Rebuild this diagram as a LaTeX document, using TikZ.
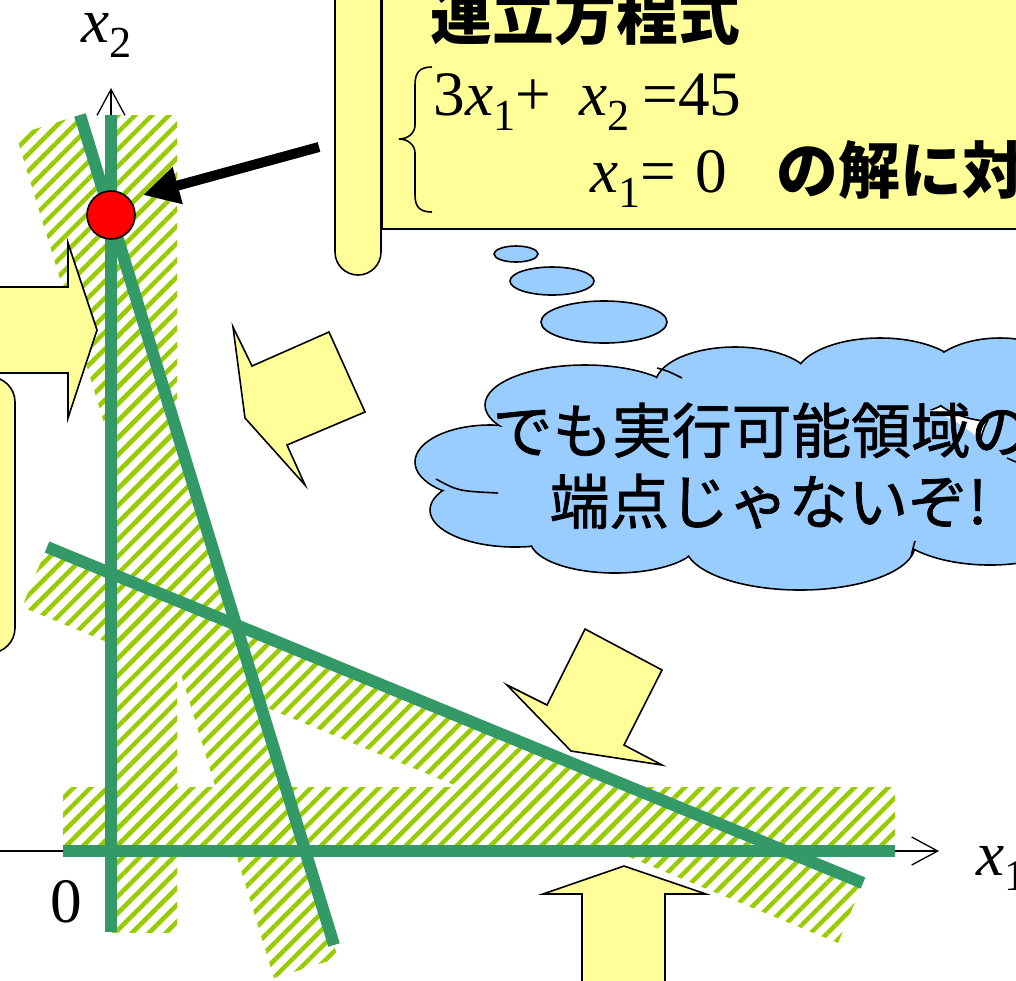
\documentclass[tikz,border=0pt]{standalone}
\usepackage{fontspec}
\setmainfont{Liberation Serif}
\newfontfamily\jpfont{Noto Sans CJK JP}
\newfontfamily\jpmid[FakeBold=1.2]{Noto Sans CJK JP}
\usetikzlibrary{arrows.meta,patterns.meta}
\definecolor{lpgreen}{HTML}{339966}
\definecolor{hatchgreen}{HTML}{99CC00}
\definecolor{scrollyellow}{HTML}{FFFF99}
\definecolor{cloudblue}{HTML}{99CCFF}
\newcommand{\vx}{\textit{x}}
\newcommand{\lsub}[1]{\raisebox{-0.25em}{\fontsize{12.6}{13}\selectfont #1}}

\begin{document}
\begin{tikzpicture}[x=0.1mm,y=-0.1mm,
    band/.style={pattern={Lines[angle=45,distance=1.2mm,line width=0.45mm]},pattern color=hatchgreen},
    gline/.style={lpgreen,line width=1.2mm},
    axis/.style={line width=0.13mm,-{Straight Barb[length=2.6mm,width=2.8mm]}},
    yel/.style={fill=scrollyellow,draw=black,line width=0.16mm},
    puff/.style={fill=cloudblue,draw=black,line width=0.16mm},
    serif/.style={font=\fontsize{18}{20}\selectfont,inner sep=0pt},
    jbold/.style={font=\jpfont\bfseries\fontsize{17.6}{20}\selectfont,inner sep=0pt},
    jtxt/.style={font=\jpmid\fontsize{17}{20}\selectfont,inner sep=0pt}]
    \useasboundingbox (0,0) rectangle (1016,980);
    \clip (0,0) rectangle (1016,980);
    \fill[band] (111,115) rectangle (177,932);
    \fill[band] (63,787) rectangle (895,851);
    \fill[band] (80,115) -- (338,958) -- (274,978) -- (16,135) -- cycle;
    \fill[band] (47,547) -- (863,883) -- (838,943) -- (22,607) -- cycle;
    \draw[axis] (-10,851) -- (939,851);
    \draw[axis] (111,851) -- (111,88);
    \draw[gline] (111,115) -- (111,932);
    \draw[gline] (63,851) -- (895,851);
    \draw[gline] (80,115) -- (334,945);
    \draw[gline] (47,547) -- (863,883);
    \node[serif,anchor=base west] (xtwo) at (81,42) {\vx\lsub{2}};
    \node[serif,anchor=base west] (xone) at (976,875) {\vx\lsub{1}};
    \node[serif] (zero) at (66,902) {0};
    \node[circle,fill=red,draw=black,line width=0.16mm,minimum size=4.8mm,inner sep=0pt] (sol) at (111,215) {};
    \coordinate (tail) at (319,147);
    \coordinate (tip) at (143,195);
    \draw[line width=1mm,-{Triangle[length=3.6mm,width=3.6mm]}] (tail) -- (tip);
    \draw[yel] (-10,287) -- (68,287) -- (68,243) -- (97,330) -- (68,418) -- (68,373) -- (-10,373) -- cycle;
    \draw[yel,rounded corners=2.5mm] (-50,377) rectangle (15,653);
    \draw[yel] (233,327) -- (252,366) -- (329,332) -- (365,412) -- (287,445) -- (305,485) -- (245,418) -- cycle;
    \draw[yel] (585,629) -- (662,670) -- (624,745) -- (662,765) -- (571,751) -- (507,685) -- (547,705) -- cycle;
    \draw[yel] (582,990) -- (582,894) -- (543,894) -- (624,866) -- (706,894) -- (665,894) -- (665,990) -- cycle;
    \draw[yel] (382,-20) rectangle (1040,229);
    \draw[yel,rounded corners=2.3mm] (335,-40) rectangle (381,275);
    \node[jbold,anchor=base west] (ttl) at (430,39) {連立方程式};
    \draw[line width=0.16mm] (432,67) .. controls (420,67) and (415,72) .. (415,85) -- (415,125)
        .. controls (415,133) and (408,139) .. (399,139) .. controls (408,139) and (415,145) .. (415,153)
        -- (415,195) .. controls (415,207) and (420,212) .. (432,212);
    \node[serif,anchor=base west] (eqone) at (433,115) {3\vx\lsub{1}+\hspace{0.45em}\vx\lsub{2}\hspace{0.2em}=45};
    \node[serif,anchor=base west] (eqtwo) at (590,192) {\vx\lsub{1}=\hspace{0.3em}0};
    \node[jbold,anchor=base west] (soltxt) at (776,193) {の解に対};
    \draw[puff] (516,254) ellipse [x radius=22,y radius=8];
    \draw[puff] (552,281) ellipse [x radius=42,y radius=14];
    \draw[puff] (604,322) ellipse [x radius=63,y radius=21];
    \foreach \cx/\cy/\rx/\ry in {490/462/75/37,515/510/85/37,585/405/100/40,735/385/80/38,880/378/85/40,
        1000/380/75/42,615/540/85/33,800/545/115/45,990/520/100/45,1040/450/60/60}
      \draw[puff] (\cx,\cy) ellipse [x radius=\rx,y radius=\ry];
    \foreach \cx/\cy/\rx/\ry in {490/462/75/37,515/510/85/37,585/405/100/40,735/385/80/38,880/378/85/40,
        1000/380/75/42,615/540/85/33,800/545/115/45,990/520/100/45,1040/450/60/60}
      \fill[cloudblue] (\cx,\cy) ellipse [x radius=\rx-1.4,y radius=\ry-1.4];
    \fill[cloudblue] (740,465) ellipse [x radius=250,y radius=85];
    \draw[line width=0.16mm] (657,368) .. controls (668,371) .. (682,378);
    \draw[line width=0.16mm] (436,479) .. controls (458,491) .. (498,493);
    \draw[line width=0.16mm] (915,541) .. controls (913,548) .. (911,557);
    \draw[line width=0.16mm] (1007,458) -- (1016,462);
    \node[jtxt,anchor=base west] (cltop) at (492,453) {でも実行可能領域の};
    \node[jtxt,anchor=base west] (clbot) at (549,524) {端点じゃないぞ!};
\end{tikzpicture}
\end{document}
